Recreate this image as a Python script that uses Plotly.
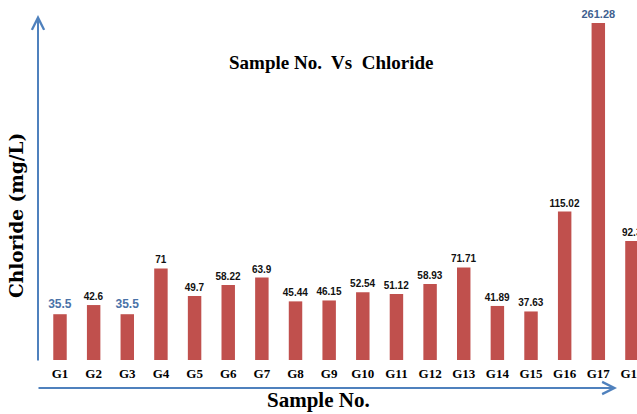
import plotly.graph_objects as go

samples = ["G1", "G2", "G3", "G4", "G5", "G6", "G7", "G8", "G9", "G10",
           "G11", "G12", "G13", "G14", "G15", "G16", "G17", "G18"]
chloride = [35.5, 42.6, 35.5, 71, 49.7, 58.22, 63.9, 45.44, 46.15, 52.54,
            51.12, 58.93, 71.71, 41.89, 37.63, 115.02, 261.28, 92.3]
label_text = ["35.5", "42.6", "35.5", "71", "49.7", "58.22", "63.9", "45.44",
              "46.15", "52.54", "51.12", "58.93", "71.71", "41.89", "37.63",
              "115.02", "261.28", "92.3"]

W, H = 637, 414
ML, MR, MT, MB = 38, 0, 15, 54
PX_PER_UNIT = 1.29
plot_h = H - MT - MB
plot_w = W - ML - MR
y_top = plot_h / PX_PER_UNIT

BLUE = "#4f81bd"
label_colors = []
label_sizes = []
for v in chloride:
    if v == 35.5:
        label_colors.append("#4a72a8")
        label_sizes.append(12)
    elif v == max(chloride):
        label_colors.append("#3f5f8f")
        label_sizes.append(11)
    else:
        label_colors.append("#111111")
        label_sizes.append(10)

fig = go.Figure()
fig.add_trace(go.Bar(
    x=list(range(len(samples))),
    y=chloride,
    width=0.4,
    marker=dict(color="#c0504d", line=dict(width=0)),
    text=label_text,
    textposition="outside",
    textangle=0,
    constraintext="none",
    cliponaxis=False,
    textfont=dict(family="Liberation Sans Narrow, Liberation Sans, sans-serif",
                  size=label_sizes, color=label_colors, weight="bold"),
))

fig.update_layout(
    width=W, height=H,
    margin=dict(l=ML, r=MR, t=MT, b=MB, pad=0, autoexpand=False),
    paper_bgcolor="white", plot_bgcolor="white",
    showlegend=False,
    xaxis=dict(
        range=[-0.654, 17.15],
        automargin=False,
        tickmode="array",
        tickvals=list(range(len(samples))),
        ticktext=samples,
        showgrid=False, zeroline=False, showline=False, ticks="",
        ticklabeloverflow="allow",
        tickfont=dict(family="Liberation Serif", size=13, color="black", weight="bold"),
        ticklabelstandoff=4,
    ),
    yaxis=dict(
        range=[0, y_top],
        automargin=False,
        showgrid=False, zeroline=False, showline=False,
        showticklabels=False, ticks="",
    ),
    annotations=[
        # chart title
        dict(text="Sample No.  Vs  Chloride", xref="paper", yref="paper",
             x=(331 - ML) / plot_w, y=1 - (63 - MT) / plot_h,
             xanchor="center", yanchor="middle", showarrow=False,
             font=dict(family="Liberation Serif", size=19, color="black", weight="bold")),
        # y-axis title
        dict(text="Chloride (mg/L)", xref="paper", yref="paper",
             x=-(ML - 16) / plot_w, y=1 - (216 - MT) / plot_h,
             xanchor="center", yanchor="middle", textangle=-90, showarrow=False,
             font=dict(family="DejaVu Serif", size=18.5, color="black", weight="bold")),
        # x-axis title
        dict(text="Sample No.", xref="paper", yref="paper",
             x=(318 - ML) / plot_w, y=-(400 - MT - plot_h) / plot_h,
             xanchor="center", yanchor="middle", showarrow=False,
             font=dict(family="Liberation Serif", size=21, color="black", weight="bold")),
        # vertical axis arrow
        dict(text="", xref="paper", yref="paper",
             x=0, y=1, ax=0, ay=347, axref="pixel", ayref="pixel",
             showarrow=True, arrowhead=5, arrowsize=1.2, arrowwidth=2,
             arrowcolor=BLUE, standoff=0),
        # horizontal axis arrow
        dict(text="", xref="paper", yref="paper",
             x=(617 - ML) / plot_w, y=-(388 - MT - plot_h) / plot_h,
             ax=-580, ay=0, axref="pixel", ayref="pixel",
             showarrow=True, arrowhead=5, arrowsize=1.2, arrowwidth=2,
             arrowcolor=BLUE, standoff=0),
    ],
)

fig.write_html("out.html")
